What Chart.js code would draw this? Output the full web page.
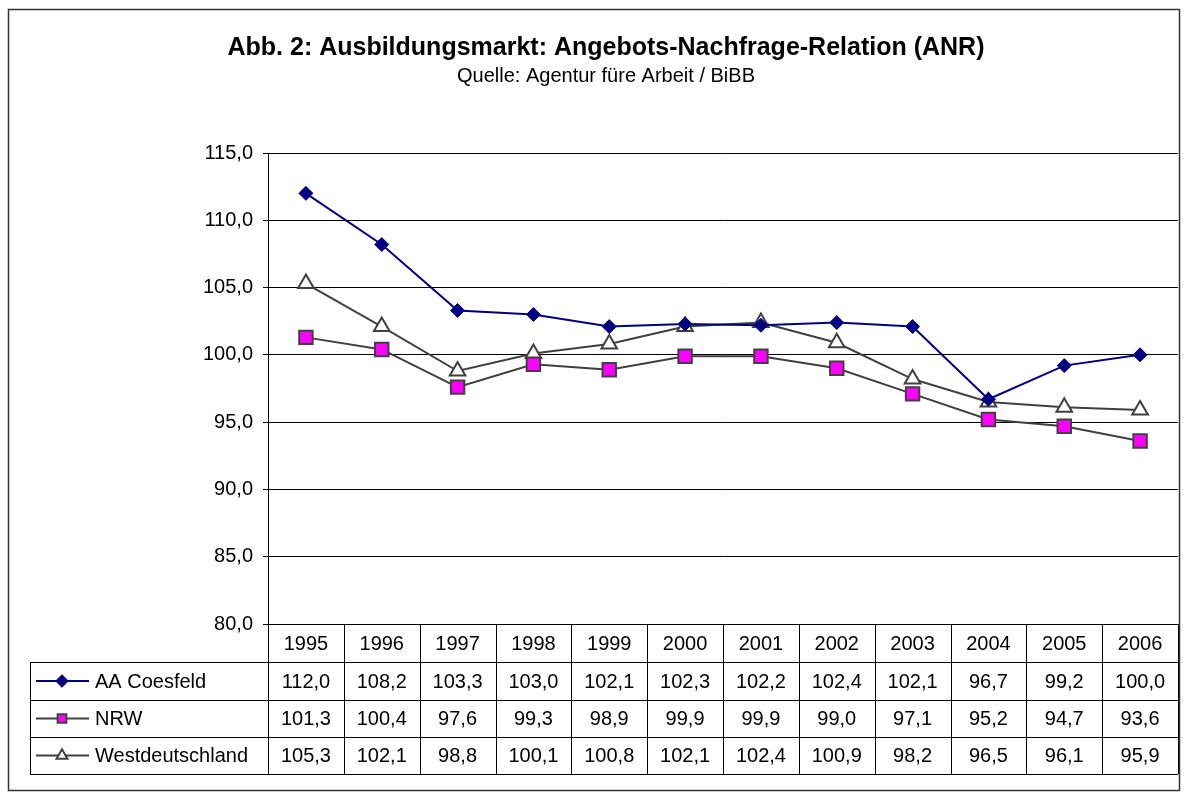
<!DOCTYPE html>
<html>
<head>
<meta charset="utf-8">
<script src="https://cdn.jsdelivr.net/npm/chart.js@4/dist/chart.umd.min.js"></script>
<style>
  html, body { margin: 0; padding: 0; background: #fff; overflow: hidden; }
  #wrap { width: 1184px; height: 793px; position: relative; }
</style>
</head>
<body>
<div id="wrap"><canvas id="anr"></canvas></div>
<script>
const years = ['1995', '1996', '1997', '1998', '1999', '2000', '2001', '2002', '2003', '2004', '2005', '2006'];
const coesfeld = [112.0, 108.2, 103.3, 103.0, 102.1, 102.3, 102.2, 102.4, 102.1, 96.7, 99.2, 100.0];
const nrw = [101.3, 100.4, 97.6, 99.3, 98.9, 99.9, 99.9, 99.0, 97.1, 95.2, 94.7, 93.6];
const west = [105.3, 102.1, 98.8, 100.1, 100.8, 102.1, 102.4, 100.9, 98.2, 96.5, 96.1, 95.9];
const yTicks = [80, 85, 90, 95, 100, 105, 110, 115];

const FONT = '"Liberation Sans", Arial, sans-serif';

function fmt(v) {
    return v.toFixed(1).replace('.', ',');
}

// title, outer frame and the data table under the plot
const tablePlugin = {
    id: 'tablePlugin',
    afterDraw(chart) {
        const ctx = chart.ctx;
        const area = chart.chartArea;
        const x = chart.scales.x;
        const colW = area.width / years.length;
        ctx.save();

        // outer frame
        ctx.strokeStyle = '#333';
        ctx.lineWidth = 1.5;
        ctx.strokeRect(8.5, 9.5, 1171, 781);

        // title
        ctx.fillStyle = '#000';
        ctx.textAlign = 'center';
        ctx.textBaseline = 'alphabetic';
        ctx.font = 'bold 25px ' + FONT;
        ctx.fillText('Abb. 2: Ausbildungsmarkt: Angebots-Nachfrage-Relation (ANR)', 606, 55);
        ctx.font = '20px ' + FONT;
        ctx.fillText('Quelle: Agentur füre Arbeit / BiBB', 606, 82);

        // table grid
        const rowTops = [area.bottom, area.bottom + 38, area.bottom + 76, area.bottom + 113];
        const tableBottom = area.bottom + 150;
        const leftX = 30;
        ctx.strokeStyle = '#000';
        ctx.lineWidth = 1;
        ctx.beginPath();
        ctx.moveTo(area.left, Math.round(area.bottom) + 0.5);
        ctx.lineTo(area.right, Math.round(area.bottom) + 0.5);
        for (let r = 1; r < rowTops.length; r++) {
            ctx.moveTo(leftX, Math.round(rowTops[r]) + 0.5);
            ctx.lineTo(area.right, Math.round(rowTops[r]) + 0.5);
        }
        ctx.moveTo(leftX, Math.round(tableBottom) + 0.5);
        ctx.lineTo(area.right, Math.round(tableBottom) + 0.5);
        ctx.moveTo(leftX + 0.5, rowTops[1]);
        ctx.lineTo(leftX + 0.5, tableBottom);
        for (let i = 0; i <= years.length; i++) {
            const px = Math.round(area.left + i * colW) + 0.5;
            ctx.moveTo(px, area.bottom);
            ctx.lineTo(px, tableBottom);
        }
        ctx.stroke();

        // header and values
        ctx.font = '20px ' + FONT;
        ctx.textBaseline = 'middle';
        ctx.textAlign = 'center';
        years.forEach((y, i) => {
            ctx.fillText(y, x.getPixelForValue(i), (rowTops[0] + rowTops[1]) / 2 + 1);
        });
        const rowMid = r => ((rowTops[r] + (r + 1 < rowTops.length ? rowTops[r + 1] : tableBottom)) / 2) + 1;
        chart.data.datasets.forEach((ds, d) => {
            const cy = rowMid(d + 1);
            ds.data.forEach((v, i) => {
                ctx.fillText(fmt(v), x.getPixelForValue(i), cy);
            });
        });

        // legend keys in the first column
        chart.data.datasets.forEach((ds, d) => {
            const cy = rowMid(d + 1) - 1;
            ctx.strokeStyle = ds.borderColor;
            ctx.lineWidth = ds.borderWidth;
            ctx.beginPath();
            ctx.moveTo(36, cy);
            ctx.lineTo(89, cy);
            ctx.stroke();
            ctx.fillStyle = ds.pointBackgroundColor;
            ctx.strokeStyle = ds.pointBorderColor;
            ctx.lineWidth = ds.pointBorderWidth;
            Chart.helpers.drawPoint(ctx, {
                pointStyle: ds.pointStyle,
                radius: ds.pointRadius * ds.keyScale,
                borderWidth: ds.pointBorderWidth
            }, 62, cy);
            ctx.fillStyle = '#000';
            ctx.textAlign = 'left';
            ctx.fillText(ds.label, 95, cy + 1);
        });
        ctx.restore();
    }
};

const ctx = document.getElementById('anr').getContext('2d');
const anrChart = new Chart(ctx, {
    type: 'line',
    data: {
        labels: years,
        datasets: [{
            label: 'AA Coesfeld',
            data: coesfeld,
            borderColor: '#000080',
            borderWidth: 2,
            pointStyle: 'rectRot',
            pointRadius: 7,
            pointBackgroundColor: '#000080',
            pointBorderColor: '#000080',
            pointBorderWidth: 1,
            keyScale: 0.9
        }, {
            label: 'NRW',
            data: nrw,
            borderColor: '#404040',
            borderWidth: 2,
            pointStyle: 'rect',
            pointRadius: 9.5,
            pointBackgroundColor: '#ff00ff',
            pointBorderColor: '#404040',
            pointBorderWidth: 2,
            keyScale: 0.65
        }, {
            label: 'Westdeutschland',
            data: west,
            borderColor: '#404040',
            borderWidth: 2,
            pointStyle: 'triangle',
            pointRadius: 9,
            pointBackgroundColor: '#ffffff',
            pointBorderColor: '#404040',
            pointBorderWidth: 2,
            keyScale: 0.7
        }]
    },
    options: {
        responsive: true,
        maintainAspectRatio: false,
        animation: false,
        layout: {
            autoPadding: false,
            padding: { left: 0, right: 6, top: 153, bottom: 169 }
        },
        plugins: {
            legend: { display: false },
            title: { display: false },
            tooltip: { enabled: false }
        },
        scales: {
            x: {
                display: false,
                offset: true
            },
            y: {
                min: 80,
                max: 115,
                afterBuildTicks: s => { s.ticks = yTicks.map(v => ({ value: v })); },
                afterFit: s => { s.width = 268; },
                grid: {
                    color: '#000',
                    lineWidth: 1,
                    tickLength: 5
                },
                border: { display: true, color: '#000', width: 1 },
                ticks: {
                    color: '#000',
                    padding: 10,
                    font: { family: FONT, size: 20 },
                    callback: v => fmt(v)
                }
            }
        }
    },
    plugins: [tablePlugin]
});
</script>
</body>
</html>
